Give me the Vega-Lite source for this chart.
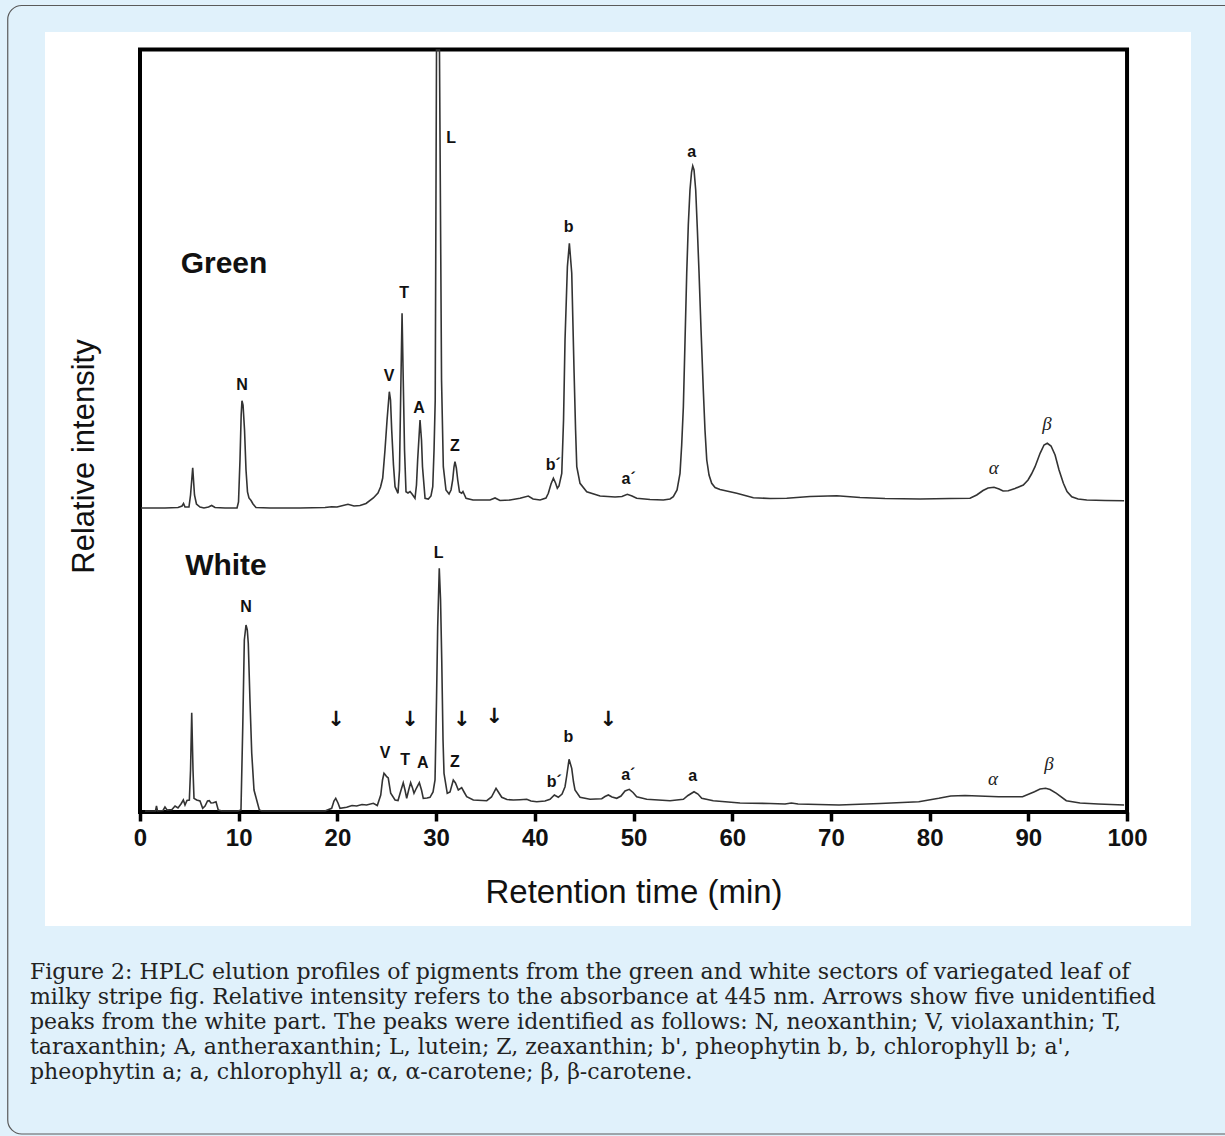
{
  "$schema": "https://vega.github.io/schema/vega-lite/v6.json",
  "width": 1146,
  "height": 894,
  "autosize": {"type": "none"},
  "padding": {"left": 45, "top": 32, "right": 34, "bottom": 210},
  "background": "#e0f1fb",
  "config": {"view": {"fill": "white", "stroke": null}},
  "title": {
    "text": [
      "Figure 2: HPLC elution profiles of pigments from the green and white sectors of variegated leaf of",
      "milky stripe fig. Relative intensity refers to the absorbance at 445 nm. Arrows show five unidentified",
      "peaks from the white part. The peaks were identified as follows: N, neoxanthin; V, violaxanthin; T,",
      "taraxanthin; A, antheraxanthin; L, lutein; Z, zeaxanthin; b', pheophytin b, b, chlorophyll b; a',",
      "pheophytin a; a, chlorophyll a; α, α-carotene; β, β-carotene."
    ],
    "orient": "bottom",
    "anchor": "start",
    "frame": "group",
    "dx": -15,
    "offset": -173,
    "font": "DejaVu Serif",
    "fontSize": 22,
    "fontWeight": "normal",
    "color": "#222222",
    "lineHeight": 25,
    "baseline": "top",
    "align": "left"
  },
  "datasets": {
    "trace": [
      {"sample":"Green","time":0.1,"intensity":304},{"sample":"Green","time":2.53,"intensity":304},{"sample":"Green","time":3.85,"intensity":304.5},{"sample":"Green","time":4.26,"intensity":306},{"sample":"Green","time":4.41,"intensity":308.5},{"sample":"Green","time":4.56,"intensity":305},{"sample":"Green","time":4.96,"intensity":305},{"sample":"Green","time":5.12,"intensity":317},{"sample":"Green","time":5.34,"intensity":344.3},{"sample":"Green","time":5.52,"intensity":317},{"sample":"Green","time":5.72,"intensity":308},{"sample":"Green","time":6.08,"intensity":305},{"sample":"Green","time":6.48,"intensity":304},{"sample":"Green","time":6.94,"intensity":305},{"sample":"Green","time":7.26,"intensity":306.5},{"sample":"Green","time":7.6,"intensity":304.5},{"sample":"Green","time":8.61,"intensity":304},{"sample":"Green","time":9.83,"intensity":304},{"sample":"Green","time":9.98,"intensity":310},{"sample":"Green","time":10.13,"intensity":352},{"sample":"Green","time":10.25,"intensity":397},{"sample":"Green","time":10.33,"intensity":411.3},{"sample":"Green","time":10.44,"intensity":407},{"sample":"Green","time":10.59,"intensity":382},{"sample":"Green","time":10.74,"intensity":342},{"sample":"Green","time":10.89,"intensity":320},{"sample":"Green","time":11.04,"intensity":314},{"sample":"Green","time":11.25,"intensity":311.5},{"sample":"Green","time":11.45,"intensity":308},{"sample":"Green","time":11.75,"intensity":304.5},{"sample":"Green","time":13.17,"intensity":304},{"sample":"Green","time":16.21,"intensity":304},{"sample":"Green","time":18.74,"intensity":304.5},{"sample":"Green","time":19.42,"intensity":305.3},{"sample":"Green","time":19.96,"intensity":305},{"sample":"Green","time":21.07,"intensity":307.7},{"sample":"Green","time":21.68,"intensity":306},{"sample":"Green","time":22.29,"intensity":306.5},{"sample":"Green","time":22.9,"intensity":308.5},{"sample":"Green","time":23.64,"intensity":314},{"sample":"Green","time":24.11,"intensity":319},{"sample":"Green","time":24.37,"intensity":325},{"sample":"Green","time":24.59,"intensity":334},{"sample":"Green","time":24.82,"intensity":362},{"sample":"Green","time":25.03,"intensity":392},{"sample":"Green","time":25.26,"intensity":420.3},{"sample":"Green","time":25.38,"intensity":412},{"sample":"Green","time":25.5,"intensity":382},{"sample":"Green","time":25.68,"intensity":347},{"sample":"Green","time":25.84,"intensity":325.3},{"sample":"Green","time":26.14,"intensity":318.7},{"sample":"Green","time":26.29,"intensity":342},{"sample":"Green","time":26.42,"intensity":422},{"sample":"Green","time":26.55,"intensity":498.7},{"sample":"Green","time":26.67,"intensity":432},{"sample":"Green","time":26.8,"intensity":362},{"sample":"Green","time":26.95,"intensity":320.3},{"sample":"Green","time":27.15,"intensity":319},{"sample":"Green","time":27.36,"intensity":320.5},{"sample":"Green","time":27.56,"intensity":318},{"sample":"Green","time":27.86,"intensity":313.7},{"sample":"Green","time":28.01,"intensity":327},{"sample":"Green","time":28.13,"intensity":352},{"sample":"Green","time":28.37,"intensity":392},{"sample":"Green","time":28.52,"intensity":372},{"sample":"Green","time":28.62,"intensity":345.3},{"sample":"Green","time":28.88,"intensity":313.7},{"sample":"Green","time":29.21,"intensity":313},{"sample":"Green","time":29.48,"intensity":316},{"sample":"Green","time":29.66,"intensity":325.3},{"sample":"Green","time":29.79,"intensity":362},{"sample":"Green","time":29.91,"intensity":412},{"sample":"Green","time":30.04,"intensity":762},{"sample":"Green","time":30.34,"intensity":762},{"sample":"Green","time":30.55,"intensity":432},{"sample":"Green","time":30.73,"intensity":345.3},{"sample":"Green","time":31.0,"intensity":322},{"sample":"Green","time":31.31,"intensity":318},{"sample":"Green","time":31.51,"intensity":322},{"sample":"Green","time":31.68,"intensity":332},{"sample":"Green","time":31.81,"intensity":345},{"sample":"Green","time":31.91,"intensity":350.3},{"sample":"Green","time":32.05,"intensity":344},{"sample":"Green","time":32.19,"intensity":332},{"sample":"Green","time":32.37,"intensity":320},{"sample":"Green","time":32.59,"intensity":318.7},{"sample":"Green","time":32.72,"intensity":320.5},{"sample":"Green","time":33.03,"intensity":313.7},{"sample":"Green","time":33.74,"intensity":312},{"sample":"Green","time":35.46,"intensity":312},{"sample":"Green","time":35.97,"intensity":314},{"sample":"Green","time":36.47,"intensity":311.5},{"sample":"Green","time":37.49,"intensity":312},{"sample":"Green","time":38.5,"intensity":313.7},{"sample":"Green","time":39.34,"intensity":316},{"sample":"Green","time":39.82,"intensity":313},{"sample":"Green","time":40.53,"intensity":312},{"sample":"Green","time":41.13,"intensity":314},{"sample":"Green","time":41.37,"intensity":318.7},{"sample":"Green","time":41.64,"intensity":328},{"sample":"Green","time":41.88,"intensity":333.7},{"sample":"Green","time":42.1,"intensity":329},{"sample":"Green","time":42.28,"intensity":323.7},{"sample":"Green","time":42.45,"intensity":326},{"sample":"Green","time":42.73,"intensity":338.7},{"sample":"Green","time":42.91,"intensity":392},{"sample":"Green","time":43.06,"intensity":472},{"sample":"Green","time":43.3,"intensity":545.3},{"sample":"Green","time":43.5,"intensity":568.7},{"sample":"Green","time":43.74,"intensity":539},{"sample":"Green","time":43.98,"intensity":439},{"sample":"Green","time":44.13,"intensity":382},{"sample":"Green","time":44.25,"intensity":345.3},{"sample":"Green","time":44.58,"intensity":328.7},{"sample":"Green","time":45.26,"intensity":320.3},{"sample":"Green","time":46.61,"intensity":316},{"sample":"Green","time":48.13,"intensity":315},{"sample":"Green","time":48.83,"intensity":315.5},{"sample":"Green","time":49.37,"intensity":317.7},{"sample":"Green","time":49.85,"intensity":316},{"sample":"Green","time":50.32,"intensity":313.7},{"sample":"Green","time":51.67,"intensity":312.5},{"sample":"Green","time":53.02,"intensity":312},{"sample":"Green","time":53.7,"intensity":313},{"sample":"Green","time":54.03,"intensity":315.3},{"sample":"Green","time":54.41,"intensity":322},{"sample":"Green","time":54.71,"intensity":338.7},{"sample":"Green","time":54.88,"intensity":367},{"sample":"Green","time":55.05,"intensity":405.3},{"sample":"Green","time":55.22,"intensity":472},{"sample":"Green","time":55.39,"intensity":538.7},{"sample":"Green","time":55.55,"intensity":587},{"sample":"Green","time":55.72,"intensity":622},{"sample":"Green","time":55.88,"intensity":640},{"sample":"Green","time":56.0,"intensity":646},{"sample":"Green","time":56.13,"intensity":642},{"sample":"Green","time":56.3,"intensity":622},{"sample":"Green","time":56.47,"intensity":582},{"sample":"Green","time":56.64,"intensity":538.7},{"sample":"Green","time":56.84,"intensity":482},{"sample":"Green","time":57.07,"intensity":422},{"sample":"Green","time":57.24,"intensity":382},{"sample":"Green","time":57.42,"intensity":352},{"sample":"Green","time":57.65,"intensity":337},{"sample":"Green","time":57.92,"intensity":328.7},{"sample":"Green","time":58.26,"intensity":324.5},{"sample":"Green","time":58.76,"intensity":322.5},{"sample":"Green","time":60.46,"intensity":318.7},{"sample":"Green","time":62.14,"intensity":314.3},{"sample":"Green","time":63.83,"intensity":313.5},{"sample":"Green","time":65.52,"intensity":313.7},{"sample":"Green","time":67.88,"intensity":315.5},{"sample":"Green","time":70.59,"intensity":316.3},{"sample":"Green","time":72.95,"intensity":314.5},{"sample":"Green","time":75.48,"intensity":313.5},{"sample":"Green","time":79.03,"intensity":313},{"sample":"Green","time":82.07,"intensity":313.5},{"sample":"Green","time":84.09,"intensity":313.7},{"sample":"Green","time":84.77,"intensity":317},{"sample":"Green","time":85.41,"intensity":321.5},{"sample":"Green","time":85.92,"intensity":324},{"sample":"Green","time":86.52,"intensity":324.7},{"sample":"Green","time":87.03,"intensity":323},{"sample":"Green","time":87.44,"intensity":321},{"sample":"Green","time":87.97,"intensity":321.3},{"sample":"Green","time":88.65,"intensity":323.5},{"sample":"Green","time":89.49,"intensity":327},{"sample":"Green","time":89.97,"intensity":332},{"sample":"Green","time":90.32,"intensity":338},{"sample":"Green","time":90.68,"intensity":345.3},{"sample":"Green","time":91.19,"intensity":358.7},{"sample":"Green","time":91.59,"intensity":367},{"sample":"Green","time":91.92,"intensity":368.7},{"sample":"Green","time":92.3,"intensity":366},{"sample":"Green","time":92.71,"intensity":357},{"sample":"Green","time":93.11,"intensity":342},{"sample":"Green","time":93.55,"intensity":328.7},{"sample":"Green","time":93.92,"intensity":320.5},{"sample":"Green","time":94.4,"intensity":315.3},{"sample":"Green","time":95.04,"intensity":313},{"sample":"Green","time":95.92,"intensity":312},{"sample":"Green","time":97.77,"intensity":311.5},{"sample":"Green","time":99.7,"intensity":311.3},
      {"sample":"White","time":0.51,"intensity":1},{"sample":"White","time":1.22,"intensity":1},{"sample":"White","time":1.57,"intensity":1},{"sample":"White","time":1.67,"intensity":6},{"sample":"White","time":1.77,"intensity":1},{"sample":"White","time":2.33,"intensity":1.5},{"sample":"White","time":2.53,"intensity":5},{"sample":"White","time":2.74,"intensity":2},{"sample":"White","time":3.24,"intensity":2.5},{"sample":"White","time":3.55,"intensity":6},{"sample":"White","time":3.85,"intensity":4},{"sample":"White","time":4.15,"intensity":8},{"sample":"White","time":4.39,"intensity":12},{"sample":"White","time":4.56,"intensity":7},{"sample":"White","time":4.76,"intensity":11.5},{"sample":"White","time":5.0,"intensity":12},{"sample":"White","time":5.12,"intensity":42},{"sample":"White","time":5.24,"intensity":99.3},{"sample":"White","time":5.37,"intensity":42},{"sample":"White","time":5.47,"intensity":13.7},{"sample":"White","time":5.74,"intensity":12},{"sample":"White","time":6.08,"intensity":11},{"sample":"White","time":6.35,"intensity":3.7},{"sample":"White","time":6.59,"intensity":6},{"sample":"White","time":6.84,"intensity":11},{"sample":"White","time":7.02,"intensity":11.3},{"sample":"White","time":7.19,"intensity":9},{"sample":"White","time":7.43,"intensity":9.3},{"sample":"White","time":7.7,"intensity":10.3},{"sample":"White","time":7.93,"intensity":2},{"sample":"White","time":8.31,"intensity":1},{"sample":"White","time":9.93,"intensity":1},{"sample":"White","time":10.23,"intensity":2},{"sample":"White","time":10.41,"intensity":85.3},{"sample":"White","time":10.57,"intensity":172},{"sample":"White","time":10.74,"intensity":187},{"sample":"White","time":10.87,"intensity":182},{"sample":"White","time":10.97,"intensity":168.7},{"sample":"White","time":11.14,"intensity":112},{"sample":"White","time":11.32,"intensity":58.7},{"sample":"White","time":11.55,"intensity":22},{"sample":"White","time":11.82,"intensity":12},{"sample":"White","time":12.09,"intensity":2},{"sample":"White","time":12.36,"intensity":1},{"sample":"White","time":18.74,"intensity":1},{"sample":"White","time":19.42,"intensity":3.7},{"sample":"White","time":19.65,"intensity":11},{"sample":"White","time":19.83,"intensity":13.7},{"sample":"White","time":20.06,"intensity":9},{"sample":"White","time":20.26,"intensity":3.7},{"sample":"White","time":20.94,"intensity":4.7},{"sample":"White","time":21.48,"intensity":6.5},{"sample":"White","time":21.95,"intensity":6},{"sample":"White","time":22.49,"intensity":7.5},{"sample":"White","time":22.95,"intensity":7},{"sample":"White","time":23.64,"intensity":8.7},{"sample":"White","time":24.04,"intensity":6.5},{"sample":"White","time":24.39,"intensity":17},{"sample":"White","time":24.57,"intensity":32},{"sample":"White","time":24.72,"intensity":38.7},{"sample":"White","time":24.87,"intensity":37},{"sample":"White","time":24.99,"intensity":35.3},{"sample":"White","time":25.15,"intensity":34},{"sample":"White","time":25.4,"intensity":18.7},{"sample":"White","time":25.84,"intensity":12},{"sample":"White","time":26.14,"intensity":11.5},{"sample":"White","time":26.39,"intensity":20},{"sample":"White","time":26.67,"intensity":29.3},{"sample":"White","time":26.85,"intensity":22},{"sample":"White","time":27.02,"intensity":13.7},{"sample":"White","time":27.22,"intensity":22},{"sample":"White","time":27.42,"intensity":29.3},{"sample":"White","time":27.61,"intensity":24},{"sample":"White","time":27.76,"intensity":18.7},{"sample":"White","time":28.01,"intensity":24},{"sample":"White","time":28.3,"intensity":29.3},{"sample":"White","time":28.52,"intensity":22},{"sample":"White","time":28.7,"intensity":13.7},{"sample":"White","time":29.08,"intensity":14},{"sample":"White","time":29.38,"intensity":14.7},{"sample":"White","time":29.69,"intensity":20},{"sample":"White","time":29.89,"intensity":32},{"sample":"White","time":30.04,"intensity":112},{"sample":"White","time":30.16,"intensity":185.3},{"sample":"White","time":30.32,"intensity":243.7},{"sample":"White","time":30.45,"intensity":212},{"sample":"White","time":30.57,"intensity":152},{"sample":"White","time":30.7,"intensity":72},{"sample":"White","time":30.8,"intensity":38.7},{"sample":"White","time":31.13,"intensity":18.7},{"sample":"White","time":31.41,"intensity":20},{"sample":"White","time":31.74,"intensity":32},{"sample":"White","time":31.96,"intensity":29},{"sample":"White","time":32.25,"intensity":22},{"sample":"White","time":32.59,"intensity":24.3},{"sample":"White","time":32.83,"intensity":20},{"sample":"White","time":33.1,"intensity":15.3},{"sample":"White","time":33.77,"intensity":12},{"sample":"White","time":35.13,"intensity":11.3},{"sample":"White","time":35.61,"intensity":15},{"sample":"White","time":36.07,"intensity":23.7},{"sample":"White","time":36.37,"intensity":19},{"sample":"White","time":36.65,"intensity":14.7},{"sample":"White","time":37.18,"intensity":12.5},{"sample":"White","time":37.82,"intensity":12},{"sample":"White","time":38.5,"intensity":12.3},{"sample":"White","time":39.18,"intensity":12.7},{"sample":"White","time":39.61,"intensity":11},{"sample":"White","time":40.19,"intensity":10.3},{"sample":"White","time":41.03,"intensity":11},{"sample":"White","time":41.54,"intensity":12.7},{"sample":"White","time":41.98,"intensity":17},{"sample":"White","time":42.38,"intensity":14.7},{"sample":"White","time":42.76,"intensity":18},{"sample":"White","time":43.06,"intensity":25.3},{"sample":"White","time":43.23,"intensity":36},{"sample":"White","time":43.47,"intensity":52.7},{"sample":"White","time":43.74,"intensity":43.7},{"sample":"White","time":43.92,"intensity":30},{"sample":"White","time":44.07,"intensity":22},{"sample":"White","time":44.58,"intensity":14.7},{"sample":"White","time":45.59,"intensity":12.7},{"sample":"White","time":46.78,"intensity":13.3},{"sample":"White","time":47.11,"intensity":15.5},{"sample":"White","time":47.45,"intensity":17},{"sample":"White","time":47.82,"intensity":15},{"sample":"White","time":48.3,"intensity":13.7},{"sample":"White","time":48.73,"intensity":16},{"sample":"White","time":49.14,"intensity":21},{"sample":"White","time":49.57,"intensity":22.7},{"sample":"White","time":49.95,"intensity":19.5},{"sample":"White","time":50.32,"intensity":15.3},{"sample":"White","time":51.34,"intensity":12.7},{"sample":"White","time":53.7,"intensity":11.3},{"sample":"White","time":55.05,"intensity":12.7},{"sample":"White","time":55.52,"intensity":16.5},{"sample":"White","time":56.13,"intensity":20.3},{"sample":"White","time":56.53,"intensity":18},{"sample":"White","time":56.91,"intensity":13.7},{"sample":"White","time":58.08,"intensity":11.3},{"sample":"White","time":60.79,"intensity":9},{"sample":"White","time":63.83,"intensity":8.5},{"sample":"White","time":65.35,"intensity":8},{"sample":"White","time":65.99,"intensity":9},{"sample":"White","time":66.67,"intensity":8},{"sample":"White","time":70.82,"intensity":7},{"sample":"White","time":74.97,"intensity":8.5},{"sample":"White","time":78.9,"intensity":10.3},{"sample":"White","time":80.93,"intensity":13.7},{"sample":"White","time":82.14,"intensity":16},{"sample":"White","time":83.59,"intensity":16.5},{"sample":"White","time":84.96,"intensity":16},{"sample":"White","time":86.99,"intensity":15.3},{"sample":"White","time":89.41,"intensity":15.3},{"sample":"White","time":90.62,"intensity":20.3},{"sample":"White","time":91.19,"intensity":23},{"sample":"White","time":91.75,"intensity":23.7},{"sample":"White","time":92.2,"intensity":22.5},{"sample":"White","time":92.85,"intensity":18.7},{"sample":"White","time":93.85,"intensity":11.3},{"sample":"White","time":95.24,"intensity":9},{"sample":"White","time":97.08,"intensity":8},{"sample":"White","time":99.7,"intensity":7}
    ],
    "labels": [
      {"sample":"Green","kind":"name","label":"Green","time":8.51,"intensity":548},
      {"sample":"White","kind":"name","label":"White","time":8.71,"intensity":246},
      {"sample":"Green","kind":"letter","label":"N","time":10.33,"intensity":427},
      {"sample":"Green","kind":"letter","label":"V","time":25.23,"intensity":436},
      {"sample":"Green","kind":"letter","label":"T","time":26.75,"intensity":519},
      {"sample":"Green","kind":"letter","label":"A","time":28.27,"intensity":404},
      {"sample":"Green","kind":"letter","label":"L","time":31.51,"intensity":674},
      {"sample":"Green","kind":"letter","label":"Z","time":31.91,"intensity":366},
      {"sample":"Green","kind":"letter","label":"b´","time":41.88,"intensity":347},
      {"sample":"Green","kind":"letter","label":"b","time":43.43,"intensity":585},
      {"sample":"Green","kind":"letter","label":"a´","time":49.5,"intensity":333},
      {"sample":"Green","kind":"letter","label":"a","time":55.9,"intensity":660},
      {"sample":"Green","kind":"greek","label":"α","time":86.5,"intensity":344},
      {"sample":"Green","kind":"greek","label":"β","time":91.9,"intensity":388},
      {"sample":"White","kind":"letter","label":"N","time":10.74,"intensity":205},
      {"sample":"White","kind":"letter","label":"L","time":30.25,"intensity":259},
      {"sample":"White","kind":"letter","label":"V","time":24.82,"intensity":59},
      {"sample":"White","kind":"letter","label":"T","time":26.85,"intensity":52},
      {"sample":"White","kind":"letter","label":"A","time":28.64,"intensity":49},
      {"sample":"White","kind":"letter","label":"Z","time":31.91,"intensity":50},
      {"sample":"White","kind":"letter","label":"b´","time":41.98,"intensity":30},
      {"sample":"White","kind":"letter","label":"b","time":43.39,"intensity":75},
      {"sample":"White","kind":"letter","label":"a´","time":49.47,"intensity":37},
      {"sample":"White","kind":"letter","label":"a","time":56.0,"intensity":36},
      {"sample":"White","kind":"greek","label":"α","time":86.42,"intensity":33},
      {"sample":"White","kind":"greek","label":"β","time":92.1,"intensity":48},
      {"sample":"White","kind":"arrow","label":"↓","time":19.86,"intensity":92},
      {"sample":"White","kind":"arrow","label":"↓","time":27.36,"intensity":92},
      {"sample":"White","kind":"arrow","label":"↓","time":32.59,"intensity":92},
      {"sample":"White","kind":"arrow","label":"↓","time":35.9,"intensity":95},
      {"sample":"White","kind":"arrow","label":"↓","time":47.45,"intensity":92}
    ]
  },
  "layer": [
    {
      "data": {"values": [{"part": "box"}]},
      "mark": {"type": "rect", "filled": false, "color": "#5a5a5a", "strokeWidth": 1.2, "cornerRadius": 14},
      "encoding": {
        "x": {"datum": -13.4, "type": "quantitative", "scale": {"domain": [-9.625, 106.48], "nice": false, "zero": false}},
        "x2": {"datum": 116},
        "y": {"datum": 806.5, "type": "quantitative", "scale": {"domain": [-114, 780], "nice": false, "zero": false}},
        "y2": {"datum": -322}
      }
    },
    {
      "data": {"values": [{"part": "frame"}]},
      "mark": {"type": "rect", "filled": false, "color": "#000000", "strokeWidth": 4},
      "encoding": {
        "x": {"datum": 0, "type": "quantitative", "scale": {"domain": [-9.625, 106.48], "nice": false, "zero": false}},
        "x2": {"datum": 100},
        "y": {"datum": 0, "type": "quantitative", "scale": {"domain": [-114, 780], "nice": false, "zero": false}},
        "y2": {"datum": 762.5}
      }
    },
    {
      "data": {"name": "trace"},
      "mark": {"type": "line", "color": "#333333", "strokeWidth": 1.6, "interpolate": "linear"},
      "encoding": {
        "x": {
          "field": "time",
          "type": "quantitative",
          "scale": {"domain": [-9.625, 106.48], "nice": false, "zero": false},
          "axis": {
            "orient": "bottom",
            "offset": -114,
            "values": [0, 10, 20, 30, 40, 50, 60, 70, 80, 90, 100],
            "domain": false,
            "grid": false,
            "tickSize": 9,
            "tickWidth": 3.5,
            "tickColor": "#000000",
            "labelFont": "Liberation Sans",
            "labelFontSize": 24,
            "labelFontWeight": "bold",
            "labelColor": "#111111",
            "labelPadding": 5,
            "labelFlush": false,
            "labelOverlap": false,
            "title": "Retention time (min)",
            "titleFont": "Liberation Sans",
            "titleFontSize": 33,
            "titleFontWeight": "normal",
            "titleColor": "#111111",
            "titleX": 588.5,
            "titleY": 90,
            "titleBaseline": "alphabetic"
          }
        },
        "y": {
          "field": "intensity",
          "type": "quantitative",
          "scale": {"domain": [-114, 780], "nice": false, "zero": false},
          "axis": {
            "orient": "left",
            "offset": -95,
            "domain": false,
            "ticks": false,
            "labels": false,
            "grid": false,
            "title": "Relative intensity",
            "titleFont": "Liberation Sans",
            "titleFontSize": 31,
            "titleFontWeight": "normal",
            "titleColor": "#111111",
            "titleAngle": -90,
            "titleX": -47,
            "titleY": 424,
            "titleBaseline": "alphabetic"
          }
        },
        "detail": {"field": "sample", "type": "nominal"}
      }
    },
    {
      "data": {"name": "labels"},
      "transform": [{"filter": "datum.kind === 'letter'"}],
      "mark": {"type": "text", "font": "Liberation Sans", "fontWeight": "bold", "fontSize": 16, "color": "#111111", "align": "center", "baseline": "middle"},
      "encoding": {
        "x": {"field": "time", "type": "quantitative"},
        "y": {"field": "intensity", "type": "quantitative"},
        "text": {"field": "label"}
      }
    },
    {
      "data": {"name": "labels"},
      "transform": [{"filter": "datum.kind === 'greek'"}],
      "mark": {"type": "text", "font": "Liberation Serif", "fontStyle": "italic", "fontSize": 19, "color": "#222222", "align": "center", "baseline": "middle"},
      "encoding": {
        "x": {"field": "time", "type": "quantitative"},
        "y": {"field": "intensity", "type": "quantitative"},
        "text": {"field": "label"}
      }
    },
    {
      "data": {"name": "labels"},
      "transform": [{"filter": "datum.kind === 'arrow'"}],
      "mark": {"type": "text", "font": "DejaVu Sans", "fontWeight": "bold", "fontSize": 21, "color": "#111111", "align": "center", "baseline": "middle"},
      "encoding": {
        "x": {"field": "time", "type": "quantitative"},
        "y": {"field": "intensity", "type": "quantitative"},
        "text": {"field": "label"}
      }
    },
    {
      "data": {"name": "labels"},
      "transform": [{"filter": "datum.kind === 'name'"}],
      "mark": {"type": "text", "font": "Liberation Sans", "fontWeight": "bold", "fontSize": 30, "color": "#111111", "align": "center", "baseline": "middle"},
      "encoding": {
        "x": {"field": "time", "type": "quantitative"},
        "y": {"field": "intensity", "type": "quantitative"},
        "text": {"field": "label"}
      }
    }
  ]
}
